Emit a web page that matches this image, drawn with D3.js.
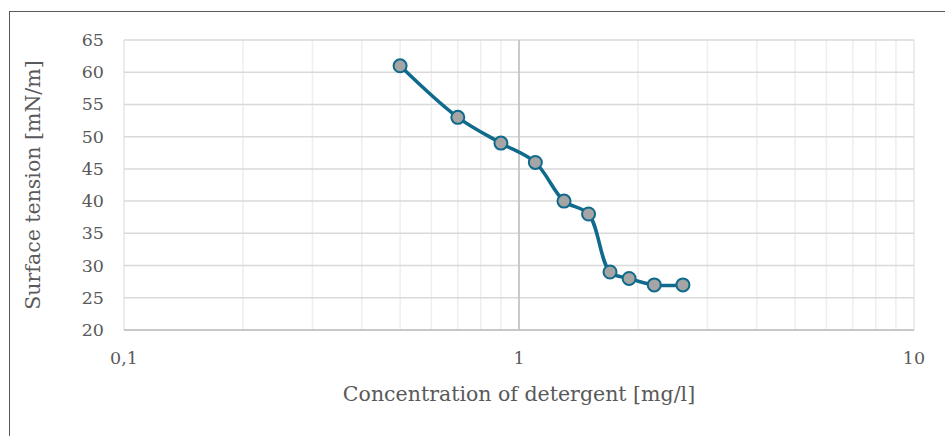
<!DOCTYPE html>
<html>
  <head>
    <meta http-equiv="content-type" content="text/html; charset=UTF-8">
    <title>surface tension</title>
    <script type='text/javascript' src='https://d3js.org/d3.v7.min.js'></script>
    <style type='text/css'>
      body { margin: 0; background-color: white; }
    </style>
  </head>
  <body>
    <script type='text/javascript'>
      // data
      var concentration = [0.5, 0.7, 0.9, 1.1, 1.3, 1.5, 1.7, 1.9, 2.2, 2.6];
      var tension = [61, 53, 49, 46, 40, 38, 29, 28, 27, 27];
      var yTicks = [20, 25, 30, 35, 40, 45, 50, 55, 60, 65];
      var xTicks = [0.1, 1, 10];
      var xTickLabels = ["0,1", "1", "10"];

      var w = 945, h = 436;
      var plotLeft = 124, plotRight = 914, plotTop = 40, plotBottom = 330;
      var serif = "'DejaVu Serif', serif";
      var textColor = "#595959";

      var svg = d3.select("body").append("svg")
        .attr("width", w).attr("height", h)
        .attr("font-family", serif);

      // chart frame (cropped at right and bottom)
      svg.append("rect")
        .attr("x", 9.5).attr("y", 11.5)
        .attr("width", w + 20).attr("height", h + 20)
        .attr("fill", "white").attr("stroke", "#595959").attr("stroke-width", 1);

      var x = d3.scaleLog().domain([0.1, 10]).range([plotLeft, plotRight]);
      var y = d3.scaleLinear().domain([20, 65]).range([plotBottom, plotTop]);

      // minor vertical gridlines
      var minor = [];
      [0.1, 1].forEach(function(d) {
        for (var k = 2; k <= 9; k++) minor.push(d * k);
      });
      svg.append("g").selectAll("line").data(minor).join("line")
        .attr("x1", function(d) { return x(d); }).attr("x2", function(d) { return x(d); })
        .attr("y1", plotTop).attr("y2", plotBottom)
        .attr("stroke", "#eeeeee").attr("stroke-width", 1.5);

      // major vertical gridlines
      svg.append("g").selectAll("line").data(xTicks).join("line")
        .attr("x1", function(d) { return x(d); }).attr("x2", function(d) { return x(d); })
        .attr("y1", plotTop).attr("y2", plotBottom)
        .attr("stroke", "#e6e6e6").attr("stroke-width", 1.5);

      // horizontal gridlines
      svg.append("g").selectAll("line").data(yTicks).join("line")
        .attr("x1", plotLeft).attr("x2", plotRight)
        .attr("y1", function(d) { return y(d); }).attr("y2", function(d) { return y(d); })
        .attr("stroke", "#d9d9d9").attr("stroke-width", 1.5);

      // axis lines (vertical axis crosses at 1)
      svg.append("line")
        .attr("x1", x(1)).attr("x2", x(1)).attr("y1", plotTop).attr("y2", plotBottom)
        .attr("stroke", "#bfbfbf").attr("stroke-width", 1.5);
      svg.append("line")
        .attr("x1", plotLeft).attr("x2", plotRight).attr("y1", plotBottom).attr("y2", plotBottom)
        .attr("stroke", "#bfbfbf").attr("stroke-width", 1.5);

      // tick labels
      svg.append("g").selectAll("text").data(yTicks).join("text")
        .attr("x", 104).attr("y", function(d) { return y(d) + 6; })
        .attr("text-anchor", "end").attr("font-size", 17.5)
        .attr("fill", textColor)
        .text(function(d) { return d; });

      svg.append("g").selectAll("text").data(xTicks).join("text")
        .attr("x", function(d) { return x(d); }).attr("y", 364)
        .attr("text-anchor", "middle").attr("font-size", 17.5)
        .attr("fill", textColor)
        .text(function(d, i) { return xTickLabels[i]; });

      // axis titles
      svg.append("text")
        .attr("x", 519).attr("y", 401)
        .attr("text-anchor", "middle").attr("font-size", 20.5)
        .attr("fill", textColor)
        .text("Concentration of detergent [mg/l]");
      svg.append("text")
        .attr("transform", "translate(40,185) rotate(-90)")
        .attr("text-anchor", "middle").attr("font-size", 20.5)
        .attr("fill", textColor)
        .text("Surface tension [mN/m]");

      // series
      var pts = concentration.map(function(c, i) { return [c, tension[i]]; });
      var line = d3.line()
        .x(function(d) { return x(d[0]); })
        .y(function(d) { return y(d[1]); })
        .curve(d3.curveCatmullRom.alpha(0.5));

      svg.append("path").datum(pts)
        .attr("d", line)
        .attr("fill", "none").attr("stroke", "#0f6a8b").attr("stroke-width", 3.5);

      svg.append("g").selectAll("circle").data(pts).join("circle")
        .attr("cx", function(d) { return x(d[0]); })
        .attr("cy", function(d) { return y(d[1]); })
        .attr("r", 6.5)
        .attr("fill", "#a5a5a5").attr("stroke", "#0f6a8b").attr("stroke-width", 2);
    </script>
  </body>
</html>
